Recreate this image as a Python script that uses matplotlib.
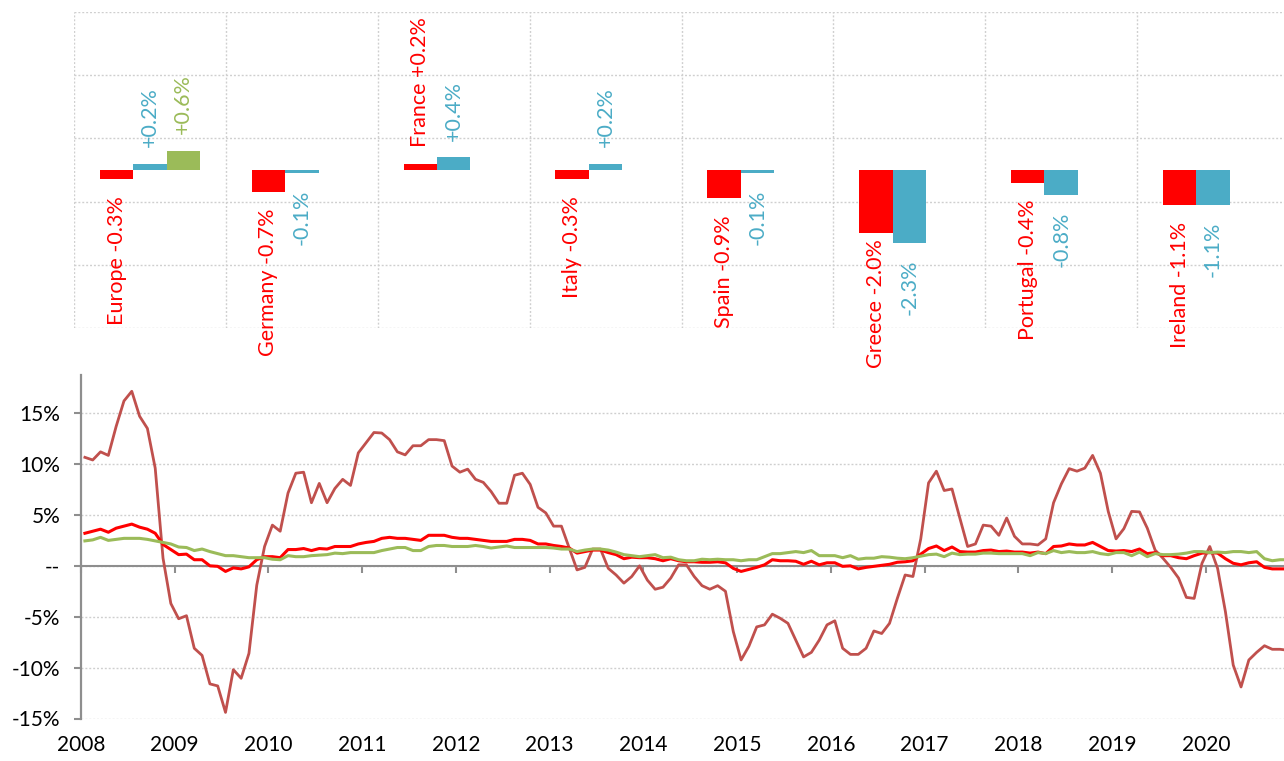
"""
Two-panel chart: latest change by country (bars, top) and monthly
year-on-year rates 2008-2020 (lines, bottom). Saves out.png.
"""

import numpy as np
import matplotlib
matplotlib.use("Agg")

import matplotlib.pyplot as plt
from matplotlib.ticker import FixedLocator, FuncFormatter


# CONFIGURATION
RED = "#FF0000"
BLUE = "#4BACC6"
GREEN = "#9BBB59"
DARK_RED = "#C0504D"
GRID_CLR = "#CFCFCF"
AXIS_CLR = "#8E8E8E"
TEXT_CLR = "#000000"
LABEL_SIZE = 15.5
TICK_SIZE = 15
LABEL_FLOOR_PX = 368      # bar labels must stay above this pixel row

plt.rcParams["font.family"] = ["Lato", "DejaVu Sans"]

# DATA: top panel, change in % points
COUNTRIES = ["Europe", "Germany", "France", "Italy",
             "Spain", "Greece", "Portugal", "Ireland"]
RED_CHANGE = [-0.3, -0.7, 0.2, -0.3, -0.9, -2.0, -0.4, -1.1]
BLUE_CHANGE = [0.2, -0.1, 0.4, 0.2, -0.1, -2.3, -0.8, -1.1]
GREEN_CHANGE = [0.6, None, None, None, None, None, None, None]

# DATA: bottom panel, monthly % y/y, Jan 2008 .. Nov 2020
START_YEAR = 2008
DARK_RED_SERIES = [
    10.66, 10.4, 11.2, 10.85, 13.7, 16.2, 17.15, 14.7, 13.5, 9.6, 0.75, -3.7,        # 2008
    -5.2, -4.9, -8.1, -8.8, -11.6, -11.8, -14.4, -10.2, -11.05, -8.6, -1.9, 1.9,     # 2009
    4.0, 3.4, 7.15, 9.1, 9.2, 6.2, 8.1, 6.2, 7.6, 8.5, 7.9, 11.1,                     # 2010
    12.1, 13.1, 13.05, 12.4, 11.2, 10.9, 11.8, 11.8, 12.4, 12.4, 12.3, 9.8,          # 2011
    9.2, 9.5, 8.5, 8.2, 7.3, 6.15, 6.15, 8.9, 9.1, 8.0, 5.75, 5.2,                   # 2012
    3.9, 3.9, 1.75, -0.4, -0.15, 1.65, 1.65, -0.25, -0.9, -1.7, -1.05, 0.0,          # 2013
    -1.4, -2.3, -2.1, -1.2, 0.1, 0.1, -1.05, -1.95, -2.3, -1.95, -2.5, -6.45,        # 2014
    -9.25, -7.9, -6.0, -5.8, -4.75, -5.15, -5.65, -7.3, -8.95, -8.5, -7.3, -5.8,     # 2015
    -5.4, -8.1, -8.7, -8.7, -8.1, -6.4, -6.65, -5.65, -3.2, -0.9, -1.05, 2.65,       # 2016
    8.15, 9.3, 7.4, 7.55, 4.7, 1.9, 2.15, 4.0, 3.9, 3.0, 4.7, 2.9,                   # 2017
    2.15, 2.15, 2.05, 2.65, 6.2, 8.05, 9.55, 9.3, 9.6, 10.85, 9.1, 5.35,             # 2018
    2.65, 3.65, 5.35, 5.3, 3.7, 1.55, 0.75, -0.15, -1.2, -3.1, -3.2, 0.25,           # 2019
    1.9, -0.25, -4.5, -9.75, -11.9, -9.25, -8.5, -7.85, -8.2, -8.2, -8.3,            # 2020
]
RED_SERIES = [
    3.2, 3.4, 3.6, 3.3, 3.7, 3.9, 4.1, 3.8, 3.6, 3.2, 2.1, 1.6,
    1.1, 1.15, 0.6, 0.6, 0.0, -0.05, -0.55, -0.2, -0.3, -0.1, 0.6, 0.9,
    0.9, 0.8, 1.6, 1.6, 1.7, 1.5, 1.7, 1.65, 1.9, 1.9, 1.9, 2.15,
    2.3, 2.4, 2.7, 2.8, 2.7, 2.7, 2.6, 2.5, 3.0, 3.0, 3.0, 2.8,
    2.7, 2.7, 2.6, 2.5, 2.4, 2.4, 2.4, 2.6, 2.6, 2.5, 2.15, 2.15,
    2.0, 1.9, 1.75, 1.25, 1.4, 1.55, 1.55, 1.3, 1.1, 0.7, 0.85, 0.8,
    0.8, 0.7, 0.5, 0.7, 0.5, 0.4, 0.4, 0.35, 0.35, 0.4, 0.3, -0.25,
    -0.55, -0.35, -0.15, 0.1, 0.6, 0.5, 0.5, 0.45, 0.15, 0.45, 0.1, 0.3,
    0.3, -0.05, 0.0, -0.3, -0.15, -0.05, 0.05, 0.15, 0.35, 0.4, 0.5, 1.15,
    1.7, 1.95, 1.5, 1.85, 1.4, 1.35, 1.35, 1.5, 1.55, 1.4, 1.45, 1.35,
    1.35, 1.25, 1.35, 1.2, 1.9, 1.95, 2.15, 2.05, 2.05, 2.3, 1.9, 1.5,
    1.45, 1.5, 1.4, 1.65, 1.2, 1.3, 1.0, 1.0, 0.8, 0.7, 1.0, 1.25,
    1.3, 1.25, 0.7, 0.25, 0.1, 0.3, 0.4, -0.15, -0.3, -0.3, -0.3,
]
GREEN_SERIES = [
    2.45, 2.55, 2.8, 2.5, 2.6, 2.7, 2.7, 2.7, 2.6, 2.45, 2.3, 2.15,
    1.85, 1.8, 1.5, 1.65, 1.4, 1.2, 1.0, 1.0, 0.9, 0.8, 0.8, 0.8,
    0.65, 0.6, 1.0, 0.9, 0.9, 1.0, 1.05, 1.1, 1.25, 1.2, 1.3, 1.3,
    1.3, 1.3, 1.5, 1.65, 1.8, 1.8, 1.5, 1.5, 1.9, 2.0, 2.0, 1.9,
    1.9, 1.9, 2.0, 1.9, 1.75, 1.85, 1.95, 1.8, 1.8, 1.8, 1.8, 1.8,
    1.75, 1.65, 1.65, 1.4, 1.55, 1.65, 1.65, 1.55, 1.35, 1.1, 1.0, 0.9,
    1.0, 1.1, 0.8, 0.85, 0.6, 0.5, 0.5, 0.65, 0.6, 0.65, 0.6, 0.6,
    0.5, 0.6, 0.6, 0.9, 1.2, 1.2, 1.3, 1.4, 1.3, 1.5, 1.0, 1.0,
    1.0, 0.8, 1.0, 0.65, 0.75, 0.75, 0.9, 0.85, 0.75, 0.7, 0.8, 0.95,
    1.1, 1.15, 0.9, 1.25, 1.1, 1.15, 1.15, 1.25, 1.25, 1.2, 1.2, 1.2,
    1.2, 1.0, 1.3, 1.2, 1.5, 1.3, 1.4, 1.3, 1.3, 1.4, 1.2, 1.1,
    1.3, 1.3, 1.0, 1.35, 0.9, 1.2, 1.1, 1.1, 1.15, 1.25, 1.4, 1.4,
    1.3, 1.35, 1.3, 1.4, 1.4, 1.3, 1.4, 0.7, 0.5, 0.6, 0.6,
]
YEAR_TICKS = list(range(2008, 2021))
PCT_TICKS = [-15, -10, -5, 0, 5, 10, 15]


def grid_style(ax, **kw):
    ax.grid(True, color=GRID_CLR, linewidth=1.0,
            linestyle=(0, (1.4, 1.4)), **kw)


def label_bar(ax, x, value, text, color):
    """Rotated label just beyond the end of a bar."""
    up = value >= 0
    return ax.annotate(text, xy=(x, value), xytext=(0, 12 if up else -12),
                       textcoords="offset points", rotation=90,
                       ha="center", va="bottom" if up else "top",
                       color=color, fontsize=LABEL_SIZE, annotation_clip=False)


# TOP PANEL: BARS
def draw_bars(ax):
    pos = np.arange(len(COUNTRIES))
    w = 0.22
    green = [np.nan if v is None else v for v in GREEN_CHANGE]
    ax.bar(pos - w, RED_CHANGE, w, color=RED, zorder=2)
    ax.bar(pos, BLUE_CHANGE, w, color=BLUE, zorder=2)
    ax.bar(pos + w, green, w, color=GREEN, zorder=2)

    labels = []
    for i, name in enumerate(COUNTRIES):
        labels.append(label_bar(ax, i - w, RED_CHANGE[i],
                                f"{name} {RED_CHANGE[i]:+.1f}%", RED))
        labels.append(label_bar(ax, i, BLUE_CHANGE[i],
                                f"{BLUE_CHANGE[i]:+.1f}%", BLUE))
        if GREEN_CHANGE[i] is not None:
            labels.append(label_bar(ax, i + w, GREEN_CHANGE[i],
                                    f"{GREEN_CHANGE[i]:+.1f}%", GREEN))

    ax.set_xlim(-0.5, len(COUNTRIES) - 0.5)
    ax.set_ylim(-5, 5)
    ax.yaxis.set_major_locator(FixedLocator([-5, -3, -1, 1, 3, 5]))
    ax.xaxis.set_major_locator(FixedLocator(np.arange(-0.5, len(COUNTRIES), 1)))
    grid_style(ax, which="major", axis="both")
    ax.tick_params(length=0, labelleft=False, labelbottom=False)
    for s in ax.spines.values():
        s.set_visible(False)
    ax.set_axisbelow(True)
    return labels


def keep_labels_inside(fig, labels):
    """Push labels up like Excel does when they would leave the chart area."""
    fig.canvas.draw()
    floor = fig.bbox.height - LABEL_FLOOR_PX
    for t in labels:
        bb = t.get_window_extent()
        if bb.y0 < floor:
            dx, dy = t.xyann
            t.xyann = (dx, dy + (floor - bb.y0) * 72 / fig.dpi)


# BOTTOM PANEL: LINES
def draw_lines(ax):
    n = len(DARK_RED_SERIES)
    x = START_YEAR + (np.arange(n) + 0.5) / 12
    ax.plot(x, DARK_RED_SERIES, color=DARK_RED, lw=2.0, zorder=3)
    ax.plot(x, RED_SERIES, color=RED, lw=2.2, zorder=4)
    ax.plot(x, GREEN_SERIES, color=GREEN, lw=2.2, zorder=5)

    ax.set_xlim(START_YEAR, 2020 + 10 / 12)
    ax.set_ylim(-15, 18.75)

    ax.yaxis.set_major_locator(FixedLocator(PCT_TICKS))
    ax.yaxis.set_major_formatter(
        FuncFormatter(lambda v, _: "--" if v == 0 else f"{v:.0f}%"))
    grid_style(ax, axis="y")

    # zero line carries the year ticks, labels sit at the bottom
    ax.spines["bottom"].set_position(("data", 0))
    ax.spines["bottom"].set_color(AXIS_CLR)
    ax.spines["bottom"].set_linewidth(1.5)
    ax.spines["left"].set_color(AXIS_CLR)
    ax.spines["left"].set_linewidth(1.6)
    ax.spines["top"].set_visible(False)
    ax.spines["right"].set_visible(False)
    ax.set_xticks(YEAR_TICKS)
    ax.tick_params(axis="x", direction="out", length=5, width=1.5,
                   color=AXIS_CLR, labelbottom=False)
    ax.tick_params(axis="y", direction="out", length=5, width=1.5,
                   color=AXIS_CLR, labelsize=TICK_SIZE, labelcolor=TEXT_CLR, pad=10)

    years = ax.secondary_xaxis("bottom")
    years.set_xticks(YEAR_TICKS)
    years.set_xticklabels([str(y) for y in YEAR_TICKS])
    years.tick_params(length=0, labelsize=TICK_SIZE, labelcolor=TEXT_CLR, pad=12)
    years.spines["bottom"].set_visible(False)
    ax.set_axisbelow(True)


def main():
    fig = plt.figure(figsize=(12.84, 7.61), dpi=100)
    fig.patch.set_facecolor("white")

    ax_top = fig.add_axes([74 / 1284, 1 - 328 / 761, 1215 / 1284, 316 / 761])
    ax_bot = fig.add_axes([81 / 1284, 1 - 718.5 / 761, 1203 / 1284, 343.5 / 761])
    ax_bot.set_zorder(0)
    ax_top.set_zorder(1)
    ax_top.patch.set_alpha(0)

    labels = draw_bars(ax_top)
    draw_lines(ax_bot)
    keep_labels_inside(fig, labels)

    fig.savefig("out.png", dpi=100, facecolor="white")
    plt.close(fig)


if __name__ == "__main__":
    main()
